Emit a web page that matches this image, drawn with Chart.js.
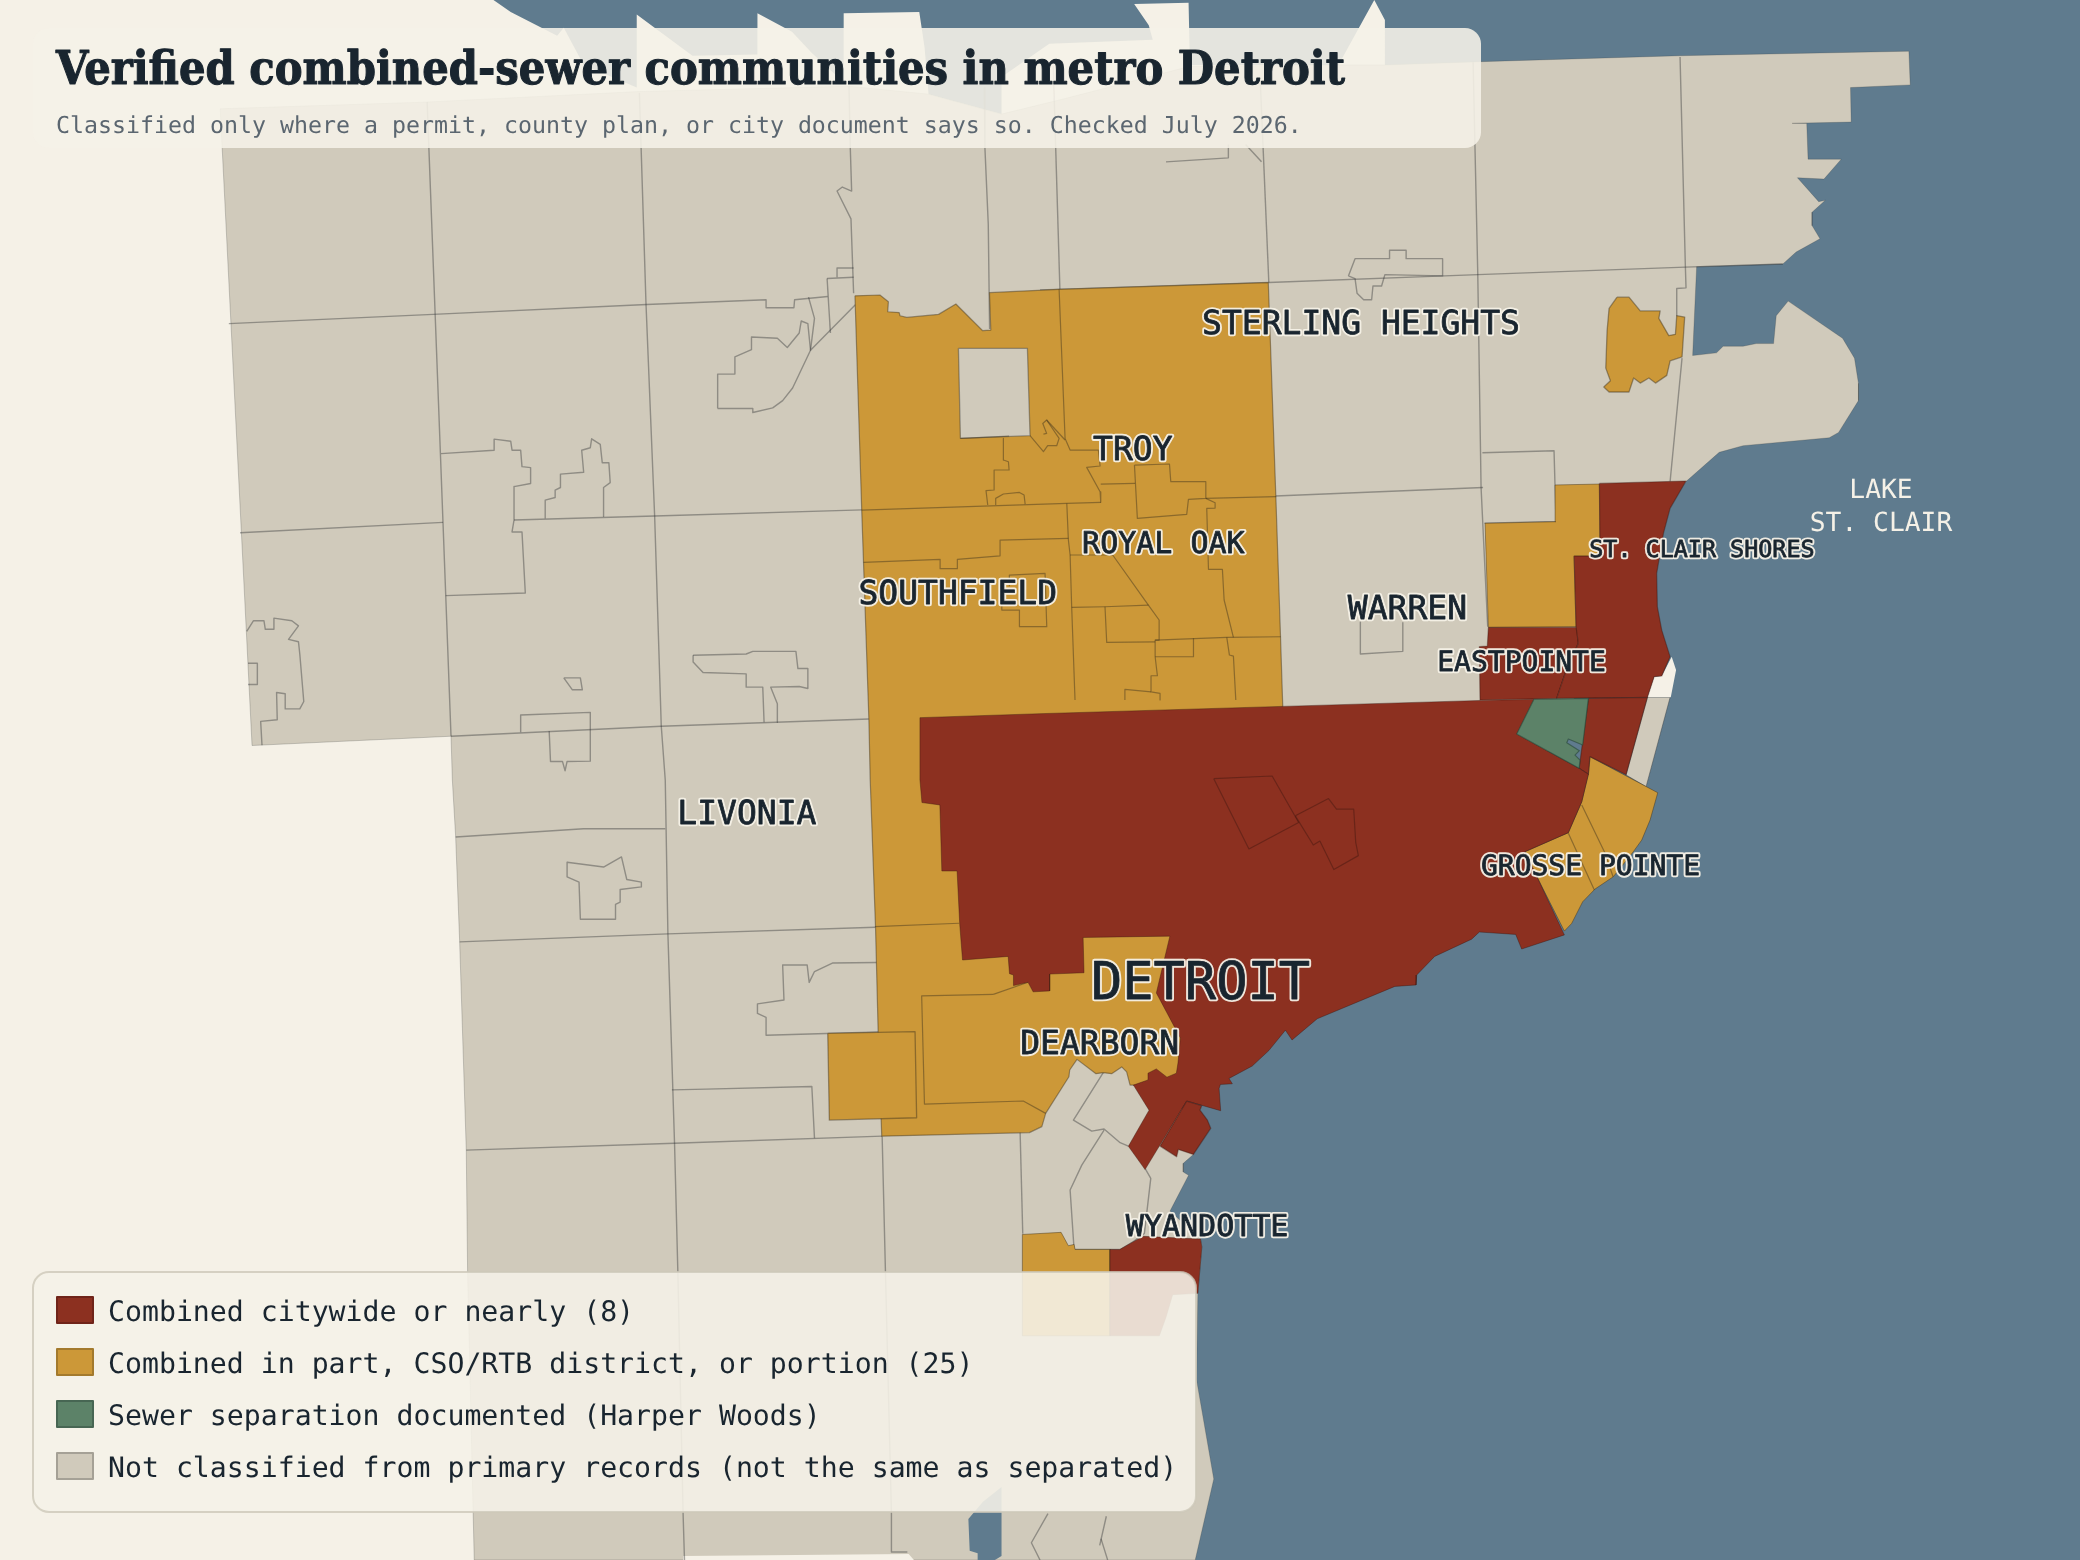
<!DOCTYPE html>
<html>
<head>
<meta charset="utf-8">
<title>Verified combined-sewer communities in metro Detroit</title>
<style>html,body{margin:0;padding:0;background:#f5f1e7}canvas{display:block}</style>
<script src="https://cdn.jsdelivr.net/npm/chart.js@4"></script>
</head>
<body>
<div style="width:2080px;height:1560px"><canvas id="map" width="2080" height="1560"></canvas></div>
<script>
const titleText = "Verified combined-sewer communities in metro Detroit";
const subtitleText = "Classified only where a permit, county plan, or city document says so. Checked July 2026.";
const legendLabels = ["Combined citywide or nearly (8)","Combined in part, CSO/RTB district, or portion (25)","Sewer separation documented (Harper Woods)","Not classified from primary records (not the same as separated)"];
const labelNames = ["STERLING HEIGHTS","TROY","ROYAL OAK","SOUTHFIELD","WARREN","EASTPOINTE","ST. CLAIR SHORES","LIVONIA","GROSSE POINTE","DETROIT","DEARBORN","WYANDOTTE"];
const labelAnchors = [[1026,245],[854,340],[877,411],[722,449],[1061,460],[1147,500.5],[1283,415.5],[563,615],[1199,654],[905,743],[829,788],[910,926]];
const waterNames = ["LAKE","ST. CLAIR"];
const waterAnchors = [[1418,370],[1418,395]];

const water = [[372,0],[385,9],[420,27],[425,21],[440,49],[480,66],[480,11],[495,22],[522,42],[571,41],[571,10],[597,24],[612,40],[636,62],[636,10],[693,9],[697,36],[700,71],[755,86],[755,58],[791,33],[869,30],[866,19],[855,3],[896,2],[897,49],[1009,49],[1036,0],[1044,15],[1044,49],[1044,100],[800,500],[800,1176],[1568,1176],[1568,0]];
const land = [[166,82],[320,77],[482,69],[640,65],[700,71],[755,86],[800,75],[897,50],[1009,49],[1044,49],[1116,46.5],[1266,42],[1439,38.6],[1440,64],[1395,66],[1395.5,92],[1351,93],[1362,93],[1363,120],[1388,120],[1375,135],[1355,134],[1371,152],[1376,151],[1366,160],[1366,170],[1372,180],[1354,190],[1344,199],[1279,201],[1276,268],[1294,266],[1299,261],[1314,261],[1324,259],[1337,259],[1339,238],[1348,227],[1389,255],[1398,270],[1401,289],[1401,302],[1386,326],[1379,330],[1314,336],[1296,341],[1271,363],[1230,420],[1200,500],[1150,600],[1050,700],[950,775],[890,830],[899.6,870.3],[892,877],[892,883.5],[896,886],[882,913],[905,934],[906,940],[903,975],[902,1040],[915,1115],[901,1176],[357.5,1176],[352.5,959],[351.5,867],[346.5,710],[343.5,631],[341,588],[340,555],[190,562]];
const grossePointeStrip = [[1241.9,525.7],[1259,525.7],[1240.9,593],[1225.8,584.2]];
const southPaper = [[515,1176],[515,1173],[685,1171.5],[689,1176]];
const southPond = [[741,1132],[755,1121],[755,1173],[750,1176],[737,1176],[737,1171],[731,1169],[730,1145]];
const shorePaper = [[1260.2,495],[1263.5,505],[1259.5,525.7],[1241.9,525.7],[1247,510.1],[1252.7,509.6]];

const landLines = [
 [[322,77],[332,342],[340,555]],
 [[482,70],[487,229.5],[493.5,389],[498.5,547.5],[501.5,588],[503.5,704],[508.5,862],[511,959],[515,1143],[516,1176]],
 [[640,65],[641,112],[642,144],[635,141],[631,144],[641.5,165],[643.5,221]],
 [[742,66],[742.5,112],[745,169],[746,248]],
 [[794,50],[799,218]],
 [[950,60],[956.5,213]],
 [[1110.5,47],[1114,206],[1116.5,367.5],[1121.5,472.5]],
 [[1266.5,43],[1270.5,200.6],[1271,217],[1264,217.5],[1264,238]],
 [[1268,270],[1259,363]],
 [[172.5,244],[326.5,237],[487.5,229.5],[577.5,226],[577.5,232],[598.5,232],[599,226],[624,223.5]],
 [[181,401.6],[334,393.8]],
 [[387.5,392],[493.5,389],[650,384.4]],
 [[340,555],[498.5,547.5],[655,542]],
 [[343.5,631],[440,624.8],[501.5,624.8]],
 [[346.5,710],[503.5,704],[660,699]],
 [[351.5,867],[508.5,861.8],[665,856.5]],
 [[506.5,821.6],[532.5,821],[612,819],[614,858]],
 [[784,218.6],[956.5,213],[1114,207],[1270.5,201.4],[1344,199]],
 [[961.5,373.9],[1118,367.5]],
 [[1117.5,341.3],[1171.5,339.8],[1173,393],[1119,394.5]],
 [[541,308],[541,282],[554,282],[554,269],[566.5,263.6],[566.5,254],[586,255],[593.5,262],[602.5,251],[604,242],[609,244],[611,264],[597.5,292.5],[590,302],[582.5,307.5],[567.5,311],[567.5,308],[541,308]],
 [[609.5,224],[614,240],[611,264],[645,229.5]],
 [[623.5,210],[643.5,209]],[[623.5,210],[626,251]],[[631,209],[631,202],[643.5,202]],
 [[332.5,342],[372.5,339.4],[372.5,331],[385,332.6],[386,339.4],[392.5,339.4],[393.5,351.8],[400,352.5],[400,364.5],[387.5,366.8],[387.5,392],[386,401],[393.5,401],[396,447],[336,449]],
 [[411,390.8],[411,377],[418.5,375],[418.5,369.4],[422.5,367.5],[422.5,357.4],[440,356],[438.5,339.4],[445,337.5],[446,330.8],[452.5,335],[454,348.8],[459,348.8],[460,363.8],[455,367.5],[455,389.3]],
 [[186,476],[191,468],[199,468],[200,474.4],[206,474.4],[206.5,466],[220,468],[225,471.8],[217.5,482],[225,483.8],[226,493],[229,528.8],[226,534.4],[215,534.4],[215,523],[208.5,522],[209,542.6],[196.5,543.8],[197.5,561.8]],
 [[187,500],[194,500],[194,516],[187,516]],
 [[522.5,494],[562.5,493],[567.5,491],[600,491],[601.5,504],[609,504],[609,519],[602.5,517.5],[581,518],[586,530.6],[586,544.5]],
 [[576,544.5],[575,518],[562.5,518],[562.5,508],[530,507],[522.5,499],[522.5,494]],
 [[425,511],[437.5,511],[439,520],[431.5,520],[425,511]],
 [[392.5,552],[392.5,539],[445,537],[445,573.8],[427.5,574],[426,581],[424,574],[415,574],[414,551]],
 [[427.5,650],[427.5,661],[436.5,665],[437.5,693],[464,693],[464,681.8],[467.5,680],[467.5,670.5],[483.5,668.6],[483.5,665],[472.5,663],[468.5,646],[455,653.6],[427.5,650]],
 [[662,778],[577.5,780.4],[577.5,767],[571,764],[571,756.8],[591,753.8],[590,727.5],[608.5,727.5],[610,740.6],[614,732.4],[627.5,726],[661,725.6]],
 [[665,856.5],[667.5,959],[672,1141],[672,1170],[684,1170]],
 [[769,853],[771,930]],
 [[829,1165],[834,1143]],[[830,1160],[835,1176]],
 [[790,1141],[777.5,1163],[784,1176]],
 [[879,122],[926,119],[926,109]],[[939,109],[951,122]],
 [[1016.5,208],[1021.5,195],[1047.5,195],[1047.5,188.6],[1060,188.6],[1060,195],[1087.5,195],[1087.5,208],[1044,207],[1041.5,215.6],[1035,215.6],[1034,226],[1028,226],[1023,221],[1021.5,210],[1016.5,208]],
 [[1025.5,469],[1025.5,493],[1057.5,491],[1057.5,469]],
 [[831.8,808.4],[809.2,844.4],[823,852.7],[832.3,851.1],[844.4,861.4],[850.6,864]],
 [[832.3,851.9],[815.5,878.3],[806.7,897.1],[809.7,941.9],[844.8,941.9],[854.4,936],[862.7,929.8],[867.5,888.3],[863.2,880.8]]
];

const orangeMain = [[644.5,223],[663.3,222.4],[669.7,227.5],[669.2,235],[677.8,235.6],[678.5,238],[683.6,239.3],[707.5,237],[720.6,229.2],[740.8,249.3],[746.9,248.8],[745.9,220.6],[798.3,218.1],[956.1,213],[961.8,374.4],[965.3,479.7],[967,532.5],[910,600],[910,760],[900,815],[868,822],[854.4,818],[851.9,818],[849.3,808],[845.6,804.3],[838,809.4],[831.7,808.6],[826.2,809.4],[811.9,798.6],[806.4,806.6],[805.8,811.7],[788.3,839.3],[785.4,849.3],[776,853.8],[664.7,856.5],[662,777.7],[660,698.6],[656,588],[655,542],[649.6,384.5]];
const oaklandHole = [[722.5,262.6],[774.5,262.6],[776.5,328.4],[724,330.4]];
const orangeSquare = [[624,779],[689.8,777.7],[691,842.6],[625.2,844.4]];
const orangeSouth = [[770.7,930.6],[799.9,929],[805.4,939.1],[809.7,938.1],[810.4,941.9],[836.8,941.9],[836.8,1007],[771,1007]];
const orangeMacomb = [[1219,224],[1228,224],[1236.5,234.4],[1251.5,234.4],[1250.5,240],[1258,253],[1263,252],[1264,238],[1270,239],[1268,269],[1259,272],[1256.5,283],[1248,288.8],[1243,285],[1236.5,288.8],[1231.5,285],[1228,295.5],[1213,295.5],[1209,291.8],[1214,287],[1210.5,277.5],[1211.5,249.4],[1213,232.5]];
const orangeRoseville = [[1172.3,365.6],[1205.7,364.9],[1206.2,419.2],[1186.6,419.2],[1188.1,472.4],[1122,473],[1119.5,394.5],[1172.8,393.3]];
const orangeGrossePointes = [[1198.6,570.4],[1249.7,597.6],[1243.9,618.2],[1237.6,633.3],[1231.3,642],[1216.2,660.9],[1202.4,670.2],[1193.1,679.8],[1184.8,696.1],[1179.3,701.9],[1159.2,662.1],[1149.6,642.1],[1182.3,627.7],[1192.4,604.4],[1197.4,583.7]];
const orangeLines = [
 [[798.4,218.1],[802.9,330.5],[806.7,339.3],[828,339.3],[829.3,351.3],[819.2,352.3],[829.3,370.7],[829.8,378.7]],
 [[829.8,364.9],[855.7,364.4]],
 [[855.2,350.6],[881.6,349.8],[882.6,363.1],[909,363.1],[909,375.7],[895.9,376.5],[894.6,387.8],[857.4,390.8],[855.2,350.6]],
 [[649.6,384.5],[804.2,379.5],[829.8,378.7]],
 [[909,375.7],[962,374.4]],
 [[909,375.7],[916,379],[916,383],[909.7,383.2],[911,429.2],[921.5,429.2],[922.8,452.3],[929.8,480.5]],
 [[924.8,480.5],[926.8,493.8],[929.8,494.6],[931.6,527.7]],
 [[870.8,482.5],[924.8,480.5],[965.5,480]],
 [[804.2,379.5],[805.4,407.1],[806.7,418.4],[807.9,457.9],[810.4,527.7]],
 [[650.9,424],[708.7,421.7],[708.7,428.7],[721.7,428.7],[721.7,421.7],[753.9,419],[753.9,407.1],[805.4,405.9]],
 [[806.7,418.4],[838.8,418.4],[865.7,456.1],[873.8,467.4],[873.8,482.5],[870.8,482.5],[870.8,495.1],[872.5,509.4],[867.7,509.4],[867.7,521.5],[874.5,522.7],[874.5,527.7]],
 [[807.9,457.9],[833,457.4],[865.7,456.1]],
 [[833,457.4],[834.3,484.3],[870.8,483.8]],
 [[870.8,495.1],[899.7,495.1],[899.7,481.2]],
 [[848,527.7],[848,519.7],[867.7,521.5]],
 [[760.9,442],[760.9,433.5],[787.8,432.2],[789.1,472.4],[768.5,472.4],[768.5,459.9],[755.2,459.9],[755.2,452]],
 [[724,330.4],[760.7,328.7]],
 [[756.4,330.5],[756.4,346.8],[760.2,348.1],[760.7,354.3],[749.4,354.3],[749.4,369.4],[743.3,369.9],[744.6,380.7]],
 [[776.5,328.4],[786.6,340.5],[789.8,336],[796.6,336],[798.4,330.5],[789,316.6],[786.1,319.2],[789,326.7],[786.6,327.2]],
 [[789,316.6],[802.9,331.7]],
 [[750.6,380.7],[750.6,375.7],[756.4,372.4],[768.5,371.2],[772,373.2],[772.8,380]],
 [[659.6,698.6],[723,696]],
 [[748.8,749.6],[694.8,750.8],[696.9,832.3],[771.4,830],[788.3,839.3]],
 [[748.8,749.6],[775,740.5]],
 [[1192.4,606.9],[1210,643.3],[1216,660.9]],
 [[1182.3,628.2],[1201.9,671]]
];

const redDetroit = [[693.5,541],[784,538],[966.5,532.5],[1116.5,528],[1156.4,527.2],[1143.4,553.3],[1190.4,579.2],[1197.4,583.7],[1192.4,604.4],[1182.3,627.7],[1149.6,642],[1159.2,662.1],[1179.3,704.8],[1147.1,715.4],[1142.6,704.4],[1115.2,702.6],[1109.4,708],[1081.5,721],[1068,735],[1067.5,742.5],[1051.5,743.6],[993,768],[974,784],[969,776.6],[956.5,792],[944,803.6],[926.5,813],[929,817],[920,817.5],[919,820.5],[920.2,837.3],[894.6,830],[863.2,881.7],[850.6,864.1],[866.2,836.9],[854.4,818],[865.4,814.1],[865.4,809],[871.7,805.8],[879.7,812],[886.8,809],[888,801.4],[889.8,782.5],[871.7,748.5],[881.9,705.7],[816.5,706.7],[817.2,733.3],[791.3,734.3],[791.3,747],[778.8,747.7],[775,740.5],[764,743],[764,735],[761,734],[760,721],[725.6,723.7],[723.5,697],[721.5,656.6],[710,656.6],[708.5,606.8],[695,605],[693.5,588]];
const redRiverRouge = [[894.6,830],[874.5,864],[887,872],[888.3,866.5],[899.6,870.3],[912.7,850.6],[910.2,844.4],[904.6,836.8],[905.9,833.5]];
const redWyandotte = [[836.8,941.9],[844,942],[854.4,936],[862,932],[905,934],[906,940],[903,975],[884,976],[879,993],[874,1007],[836.8,1007]];
const redShores = [[1205.7,364.4],[1271,362.6],[1259,383.2],[1254,402],[1248.9,432.2],[1249.4,457.4],[1252.7,475],[1259,495],[1252.7,509.6],[1247,510.1],[1241.9,525.7],[1173.5,526.5],[1180.3,506.4],[1189.8,485],[1188.1,472.4],[1186.6,419.2],[1206.2,419.2]];
const redEastpointe = [[1122,473],[1188.6,473],[1189.8,485],[1180.3,506.4],[1173.5,526.5],[1115.7,527.7],[1115.2,487.5],[1121.2,487]];
const redHarper = [[1197.4,526.5],[1241.9,525.7],[1225.8,584],[1198.6,570.4],[1197.4,583.7],[1190.4,579.2]];
const redHighlandPark = [[915,587],[959,585],[979,620],[941.5,640]];
const redHamtramck = [[976.5,615],[1001.5,602],[1007.5,610],[1020.5,610],[1022,635],[1024,645],[1005.5,655.5],[995,634],[990,637]];
const greenHarperWoods = [[1156.4,527.2],[1197.4,526.5],[1193.1,561.6],[1182.3,557.1],[1181.1,559.9],[1190.6,565.9],[1187.3,569.2],[1191.1,573],[1190.4,579.2],[1143.4,553.3]];

const C = {paper:"#f5f1e7",water:"#5f7b8e",land:"#d0cabb",orange:"#cc9838",red:"#8c3020",green:"#5c8268",ink:"#19252f",sub:"#5b6670",
  landEdge:"rgba(45,48,50,.4)",coastEdge:"rgba(45,48,50,.22)",orangeEdge:"rgba(60,48,28,.45)",redEdge:"rgba(50,18,12,.38)",greenEdge:"rgba(40,70,55,.6)"};
const legendColors = [C.red,C.orange,C.green,C.land];
const legendEdges = ["#6f2419","#a37a2d","#476653","#a5a196"];

function shape(pts, fill, edge, w){
  return {data:pts.concat([pts[0]]).map(p=>({x:p[0],y:p[1]})),showLine:true,fill:"shape",backgroundColor:fill,
    borderColor:edge,borderWidth:w,pointRadius:0,pointHoverRadius:0,tension:0,borderJoinStyle:"round"};
}
function line(pts, edge, w){
  return {data:pts.map(p=>({x:p[0],y:p[1]})),showLine:true,fill:false,borderColor:edge,borderWidth:w,
    pointRadius:0,pointHoverRadius:0,tension:0,borderJoinStyle:"round"};
}
const layers = [
  shape(water,C.water,"rgba(0,0,0,0)",0),
  shape(land,C.land,C.coastEdge,1),
  shape(grossePointeStrip,C.land,C.landEdge,1),
  shape(southPaper,C.paper,"rgba(0,0,0,0)",0),
  shape(southPond,C.water,"rgba(0,0,0,0)",0),
  shape(shorePaper,C.paper,"rgba(0,0,0,0)",0),
  ...landLines.map(l=>line(l,C.landEdge,1.4)),
  shape(orangeMain,C.orange,C.orangeEdge,1.2),
  shape(oaklandHole,C.land,C.landEdge,1.3),
  shape(orangeSquare,C.orange,C.orangeEdge,1.3),
  shape(orangeSouth,C.orange,C.orangeEdge,1),
  shape(orangeMacomb,C.orange,C.orangeEdge,1.3),
  shape(orangeRoseville,C.orange,C.orangeEdge,1),
  shape(orangeGrossePointes,C.orange,C.orangeEdge,1),
  ...orangeLines.map(l=>line(l,C.orangeEdge,1.2)),
  shape(redEastpointe,C.red,C.redEdge,1.2),
  shape(redShores,C.red,C.redEdge,1.2),
  shape(redHarper,C.red,C.redEdge,1.2),
  shape(redDetroit,C.red,C.redEdge,1),
  shape(redRiverRouge,C.red,C.redEdge,1.3),
  shape(redWyandotte,C.red,C.redEdge,1),
  shape(redHighlandPark,C.red,C.redEdge,1.2),
  shape(redHamtramck,C.red,C.redEdge,1.2),
  shape(greenHarperWoods,C.green,C.greenEdge,1.2)
].reverse();

const MONO = '"DejaVu Sans Mono"';
function roundPanel(ctx,x,y,w,h,r){
  ctx.beginPath();ctx.roundRect(x,y,w,h,r);
  ctx.fillStyle="rgba(245,241,231,.89)";ctx.fill();
}
const overlay = {
  id:"overlay",
  afterDatasetsDraw(chart){
    const {ctx,scales:{x,y}} = chart;
    ctx.save();
    ctx.textRendering="geometricPrecision";
    ctx.textBaseline="middle";ctx.textAlign="center";ctx.lineJoin="round";
    labelNames.forEach((n,i)=>{
      let size=33;
      if(n==="DETROIT")size=52;
      else if(n==="ROYAL OAK"||n==="WYANDOTTE")size=30;
      else if(n==="EASTPOINTE"||n==="GROSSE POINTE")size=28;
      else if(n==="ST. CLAIR SHORES")size=23.4;
      ctx.font=`400 ${size}px ${MONO}`;
      const px=x.getPixelForValue(labelAnchors[i][0]),py=y.getPixelForValue(labelAnchors[i][1]);
      ctx.lineWidth=4.5;ctx.strokeStyle="rgba(245,241,231,.95)";ctx.strokeText(n,px,py);
      ctx.fillStyle=C.ink;ctx.fillText(n,px,py);
      ctx.lineWidth=.8;ctx.strokeStyle=C.ink;ctx.strokeText(n,px,py);
    });
    waterNames.forEach((n,i)=>{
      ctx.font=`400 26.3px ${MONO}`;ctx.fillStyle="#f5f1e7";
      ctx.fillText(n,x.getPixelForValue(waterAnchors[i][0]),y.getPixelForValue(waterAnchors[i][1]));
    });
    ctx.textAlign="left";
    roundPanel(ctx,33,28,1448,120,16);
    ctx.fillStyle=C.ink;ctx.textBaseline="alphabetic";
    ctx.font='700 46.5px "DejaVu Serif Condensed"';ctx.fillText(titleText,56,84,1289);
    ctx.lineWidth=1;ctx.strokeStyle=C.ink;ctx.strokeText(titleText,56,84,1289);
    ctx.fillStyle=C.sub;ctx.font=`400 23.25px ${MONO}`;ctx.fillText(subtitleText,56,133);
    roundPanel(ctx,33,1272,1163,240,16);
    ctx.strokeStyle="rgba(205,200,185,.8)";ctx.lineWidth=2;ctx.stroke();
    ctx.font=`400 28.2px ${MONO}`;ctx.textBaseline="middle";
    legendLabels.forEach((t,i)=>{
      const yy=1297+i*52;
      ctx.fillStyle=legendColors[i];ctx.fillRect(57,yy,36,26);
      ctx.strokeStyle=legendEdges[i];ctx.lineWidth=2;ctx.strokeRect(57,yy,36,26);
      ctx.fillStyle=C.ink;ctx.fillText(t,108,yy+17);
    });
    ctx.restore();
  }
};

new Chart(document.getElementById("map"),{
  type:"scatter",
  data:{datasets:layers},
  plugins:[overlay],
  options:{
    responsive:false,animation:false,devicePixelRatio:1,
    layout:{padding:0},
    plugins:{legend:{display:false},title:{display:false},tooltip:{enabled:false}},
    events:[],
    scales:{
      x:{type:"linear",min:0,max:1568,display:false},
      y:{type:"linear",min:0,max:1176,reverse:true,display:false}
    }
  }
});
</script>
</body>
</html>
